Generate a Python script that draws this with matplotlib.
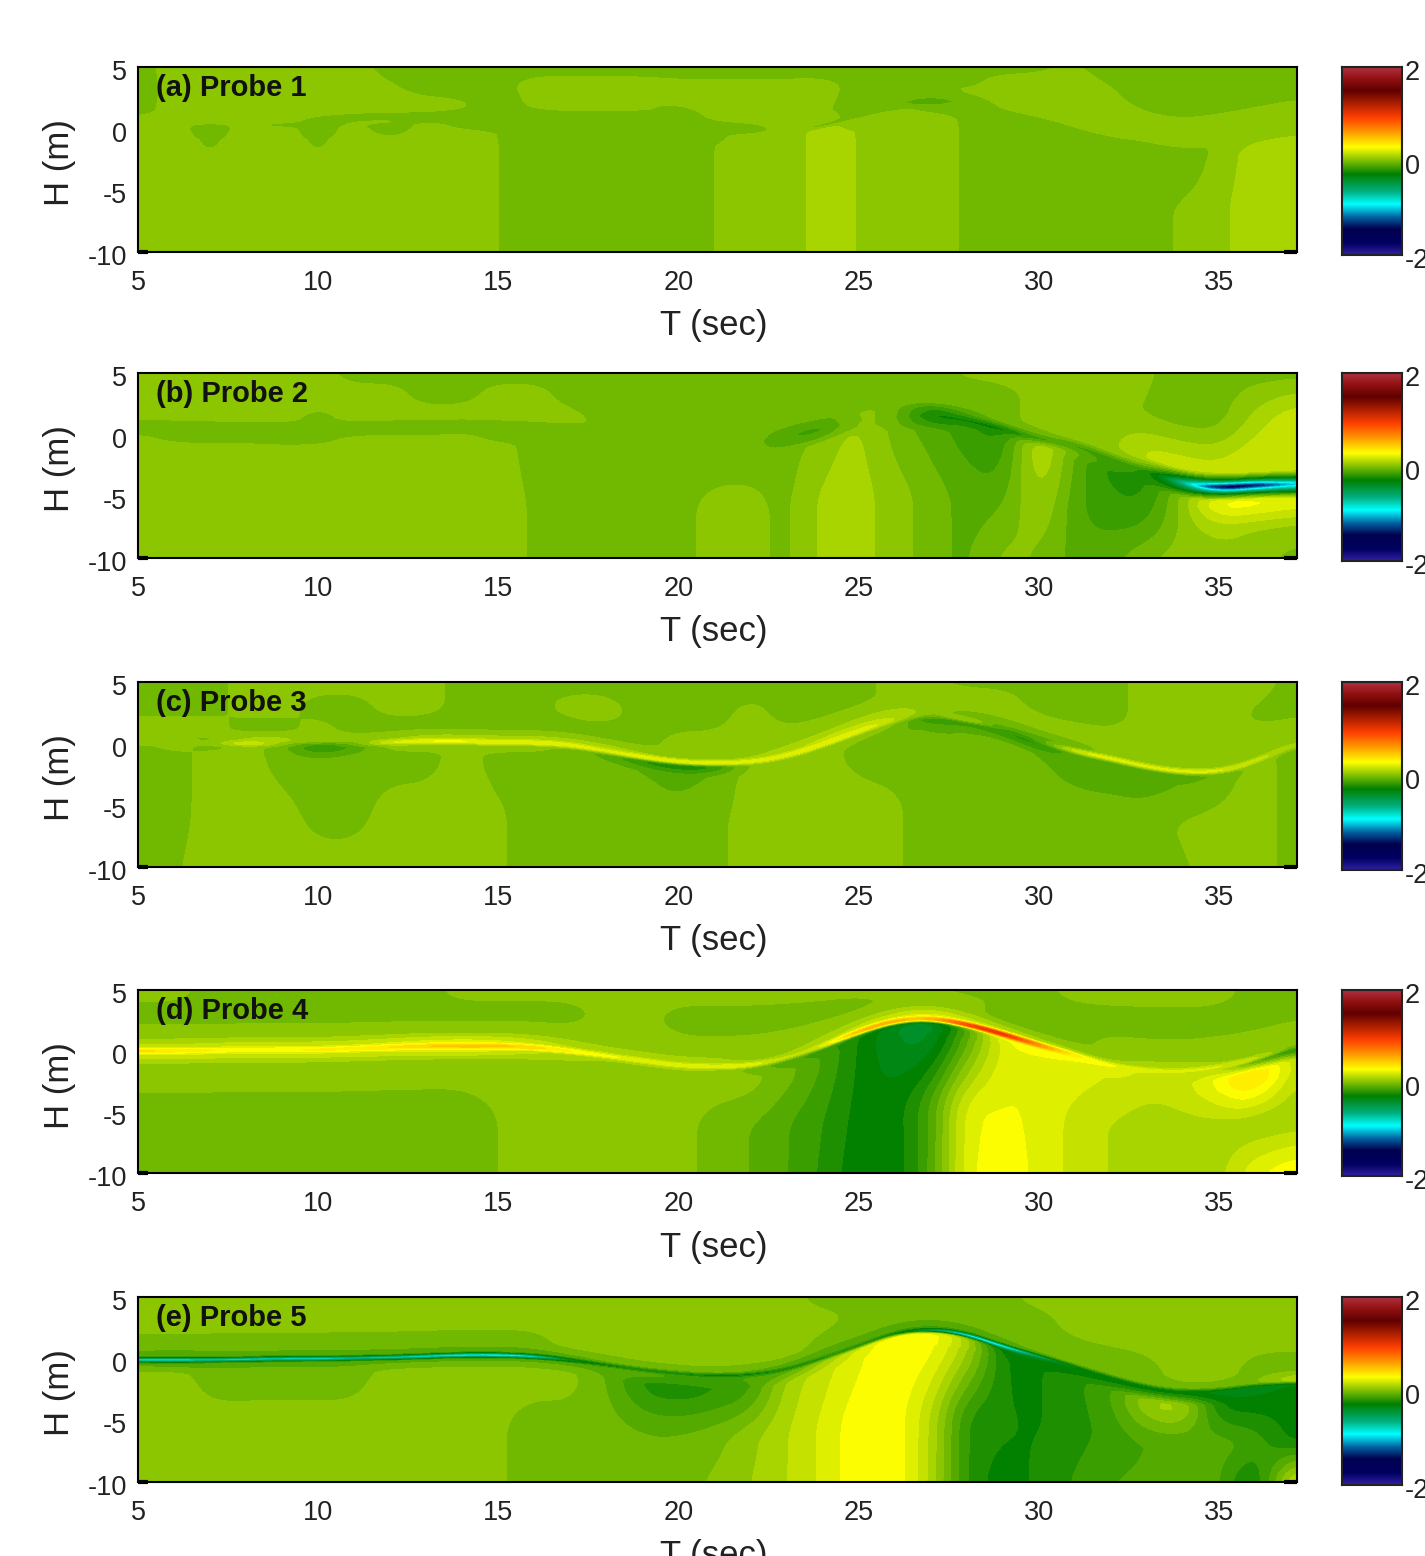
import matplotlib
matplotlib.use("Agg")
import numpy as np
import matplotlib.pyplot as plt
from matplotlib.colors import LinearSegmentedColormap
from matplotlib.transforms import ScaledTranslation

plt.rcParams['font.family'] = ['Liberation Sans', 'DejaVu Sans']
plt.rcParams['axes.unicode_minus'] = False

W, H = 1425, 1556
T_COLS = [5, 6, 7, 8, 9, 10, 11, 12, 13, 14, 15, 16, 17, 18, 19, 20, 21, 22, 23, 24, 25, 26, 27, 28, 29, 30, 31, 32, 33, 34, 35, 36, 37.2]
LABELS = ["(a) Probe 1", "(b) Probe 2", "(c) Probe 3", "(d) Probe 4", "(e) Probe 5"]

# free-surface elevation (m) per probe, per T column
ETA_A = [0.3, 0.3, 0.3, 0.3, 0.3, 0.3, 0.5, 0.6, 0.6, 0.7, 0.7, 0.7, 0.7, 0.7, 0.6, -0.2, -0.3, -0.3, -0.2, 0.2, 1.0, 1.7, 2.1, 1.9, 1.4, 0.8, 0.2, -0.5, -1.2, -1.8, -1.3, -0.6, 0.3]
ETA_B = [0.3, 0.3, 0.2, 0.2, 0.1, 0.1, 0.2, 0.3, 0.3, 0.4, 0.3, 0.2, 0.0, -0.2, -0.5, -0.9, -1.0, -0.8, -0.2, 0.4, 1.2, 1.5, 1.6, 1.2, 0.5, -0.4, -0.8, -1.9, -3.0, -4.0, -4.3, -4.1, -4.0]
ETA_C = [0.1, 0.1, 0.05, 0.0, 0.0, -0.1, 0.0, 0.1, 0.2, 0.2, 0.1, 0.1, -0.1, -0.6, -1.1, -1.5, -1.6, -1.5, -1.0, -0.1, 1.0, 2.0, 2.4, 2.0, 1.3, 0.2, -0.6, -1.2, -1.9, -2.3, -2.3, -1.5, 0.1]
ETA_D = [0.0, 0.0, 0.05, 0.1, 0.1, 0.1, 0.2, 0.3, 0.4, 0.4, 0.4, 0.3, 0.0, -0.4, -0.8, -1.2, -1.3, -1.2, -0.6, 0.4, 1.6, 2.5, 2.7, 2.2, 1.4, 0.5, -0.3, -1.2, -1.6, -1.7, -1.3, -0.7, 0.6]
ETA_E = [-0.1, -0.1, -0.1, -0.05, 0.0, 0.0, 0.05, 0.1, 0.2, 0.3, 0.3, 0.2, -0.1, -0.5, -0.9, -1.2, -1.4, -1.3, -0.9, 0.0, 1.0, 2.1, 2.4, 2.0, 1.0, 0.2, -0.6, -1.5, -2.3, -2.7, -2.6, -2.2, -2.0]
INNER = [0.3, 0.6, 0.3, 0.3, 0.3]

# field values in hundredths, rows from the top of the water column to the bottom
FIELD_A = [
 [-3, 3, 3, 3, 3, 3, 3, -3, -3, -3, -3, -3, -3, -3, -3, -3, -3, -3, -3, -3, -3, -3, -3, -3, -3, -1, 1, -3, -3, -3, -3, -3, 1],
 [-4, 3, 3, 3, 3, 3, 3, 1, -3, -3, -3, 3, 3, 3, 3, 3, 3, 3, 3, 3, -3, -3, -3, -3, 3, 3, 3, 1, -3, -3, -3, -3, -3],
 [-3, 3, 3, 3, 3, 3, 3, 3, 3, 1, -3, 1, 3, 3, 1, -3, 1, 3, 3, 1, -3, -4, -2, 1, 3, 3, 3, 3, 3, 3, 3, 3, 3],
 [2, 3, 3, 3, 3, -3, -3, -3, -3, -3, -3, -3, -3, -3, -3, -3, -3, -3, 3, 3, -3, -6, -8, -6, 1, 3, 3, 3, 3, 3, 3, 3, 3],
 [3, 3, -3, 3, -3, -4, 1, 1, -3, -3, -3, -3, -3, -3, -3, -3, -3, -2, 3, -3, -3, -3, -9, -3, -3, -3, 1, 3, -3, -4, 3, 3, 3],
 [3, 3, -4, 3, 3, -4, 3, -5, 3, -3, -3, -3, -3, -3, -3, -3, -2, 3, 3, 9, 3, 3, -3, -3, -3, -3, -3, -3, -6, -7, 3, 6, 3],
 [3, 3, -2, 3, 3, -2, 3, -1, 3, 3, 0, -3, -3, -3, -3, -3, 0, 3, 3, 9, 6, 3, 3, -1, -3, -3, -3, -3, -5, -6, 3, 9, 9],
 [3, 3, 3, 3, 3, 3, 3, 3, 3, 3, 0, -3, -3, -3, -3, -3, 0, 3, 3, 9, 6, 3, 3, -1, -3, -3, -3, -3, -3, 1, 5, 9, 9],
 [3, 3, 3, 3, 3, 3, 3, 3, 3, 3, 0, -3, -3, -3, -3, -3, 0, 3, 3, 9, 6, 3, 3, -1, -3, -3, -3, -3, -3, 1, 5, 9, 9],
]
FIELD_B = [
 [3, 3, 3, 3, 3, 3, -3, -3, -3, -3, -3, -3, -3, -3, -3, -3, -3, -3, -3, -3, -3, -3, -3, 1, 3, 3, 3, 3, 1, -3, -3, -3, -3],
 [3, 3, 3, 3, 3, 3, 3, 3, -3, -3, 3, 3, -3, -3, -3, -3, -3, -3, -3, -3, -3, -3, -3, -3, -3, 3, 3, 3, -1, -3, -3, 9, 20],
 [3, 3, 3, 3, 3, -3, 3, 3, 3, 3, 3, 3, 3, -3, -3, -3, -3, -3, -3, -3, -3, -3, -3, -3, -3, 3, 3, 3, 16, 18, 16, 22, 16],
 [-3, -3, -3, -3, -3, -3, -3, -3, -3, -3, -3, -3, -3, -3, -3, -3, -3, -3, -9, -12, 3, -3, -22, -12, -3, -3, 3, 3, 3, -28, -30, -30, -30],
 [-3, -6, -4, -6, -6, -4, -3, -5, -6, -3, -3, -3, -3, -3, -3, -4, -3, -3, -12, -16, 3, -3, -28, -26, -30, -14, -14, -16, -16, -70, -170, -160, -100],
 [3, -3, -5, -3, -5, -3, 3, 3, 3, 3, -3, -3, -3, -3, -3, -3, -3, -3, -9, -9, 3, -3, -22, -16, -24, 16, -6, -16, -22, -30, -30, -30, -30],
 [3, 3, 3, 3, 3, 3, 3, 3, 3, 3, 3, -3, -3, -3, -3, -3, -3, -3, -3, 3, 9, -3, -9, -16, -20, 18, -9, -22, -22, 3, 30, 30, 25],
 [3, 3, 3, 3, 3, 3, 3, 3, 3, 3, 3, -1, -3, -3, -3, -3, 3, 3, -3, 9, 9, 3, -3, -9, -9, 9, -12, -16, -14, 3, 9, 6, 3],
 [3, 3, 3, 3, 3, 3, 3, 3, 3, 3, 3, -1, -3, -3, -3, -3, 3, 3, -3, 9, 9, 3, -3, -9, 3, -1, -9, -9, -1, 3, 3, 3, -3],
]
FIELD_C = [
 [-3, -3, -3, 3, 3, 3, 3, 3, 3, -3, -3, -3, -3, -3, -3, -3, -3, -3, -3, -3, -3, 3, 3, -3, -3, -3, -3, -3, 3, 3, 3, 3, -3],
 [-3, -3, -3, 3, 3, -3, -3, 3, 3, -3, -3, -3, 3, 3, -3, -3, -3, 3, -3, -3, -3, 3, 3, 3, 3, -3, -3, -3, 3, 1, 3, -1, -3],
 [3, 3, 3, -3, -3, 3, -3, -3, -3, -3, -3, -3, -3, -3, -3, 3, 3, 3, 3, 3, 5, 3, 3, 3, 3, 3, 3, 3, 3, 3, 3, 3, 3],
 [3, 3, -3, 9, 9, 3, 3, 5, 9, 9, 9, 9, 9, 9, 6, 3, 3, 6, 9, 16, 16, 12, 3, -3, -6, -9, -6, 3, 3, 3, 3, 3, 6],
 [3, 9, -3, 24, 3, -18, -5, 22, 28, 28, 26, 28, 26, 20, 28, 28, 28, 24, 25, 26, 26, 14, -9, 14, -16, -16, 22, 24, 22, 24, 22, 18, 6],
 [-3, 3, -3, 3, -3, -22, -12, 3, 3, 3, 3, 3, -3, -9, -22, -28, -22, 3, 3, 3, 3, 3, -22, -14, -20, -22, -9, -9, -12, -10, -6, 3, -3],
 [-3, -3, 3, 3, -3, -6, -3, -3, -3, 3, -3, -3, -3, -3, -6, -9, -5, 3, 3, 3, -3, -6, -6, -6, -3, -6, -9, -9, -9, -6, -3, 3, -3],
 [-3, -3, 3, 3, 3, -3, -3, 3, 3, 3, 1, -3, -3, -3, -3, -3, -2, 3, 3, 3, 3, 1, -3, -3, -3, -3, -3, -3, -3, 1, 3, 3, -3],
 [-3, -1, 3, 3, 3, 3, 3, 3, 3, 3, 1, -3, -3, -3, -3, -3, -2, 3, 3, 3, 3, 1, -3, -3, -3, -3, -3, -3, -3, -1, 3, 3, -3],
]
FIELD_D = [
 [3, 3, -3, -3, -3, -3, -3, -3, -3, 3, 3, 3, 3, 3, 3, 3, 3, 3, 3, 3, 3, 3, 3, -3, -3, -3, 3, 3, 3, 3, 3, -3, -3],
 [-3, -3, -3, -3, -3, -3, -3, -3, -3, -3, -3, -3, -3, 3, 3, -3, -3, -3, -3, -3, -3, 3, 3, 3, -3, -3, -3, -3, -3, -3, -3, -3, -3],
 [3, 3, 3, 3, 3, 3, 3, 3, 3, 3, 3, 3, 3, 3, 3, 3, 3, 3, 3, 3, 3, 3, 3, 3, -3, -3, -3, 3, 3, 3, 3, 3, 3],
 [16, 16, 16, 18, 18, 18, 18, 20, 22, 24, 22, 18, 12, 9, 9, 9, 9, 5, 6, 9, 16, 18, 22, 16, 12, 9, 6, 6, 9, 9, 6, 3, 3],
 [44, 36, 34, 30, 32, 34, 36, 40, 46, 52, 50, 44, 34, 28, 26, 24, 26, 26, 12, 18, 60, 60, 50, 105, 115, 70, 32, 26, 22, 22, 20, 20, -12],
 [18, 18, 18, 18, 18, 18, 18, 20, 22, 22, 20, 14, 9, 6, 6, 6, 6, -3, -12, -16, -24, -36, -44, -12, 28, 28, 26, 24, 16, 12, 16, -12, -24],
 [3, 3, 3, 3, 3, 3, 3, 3, 3, 3, 3, 3, 3, 3, 3, 3, 3, 3, -3, -12, -26, -38, -44, -10, 24, 24, 22, 18, 14, 16, 28, 50, 12],
 [-3, -3, -3, -3, -3, -3, -3, -3, -3, -3, 0, 3, 3, 3, 3, 3, -3, -6, -12, -18, -28, -30, -14, 24, 26, 24, 16, 12, 9, 9, 9, 6, 6],
 [-3, -3, -3, -3, -3, -3, -3, -3, -3, -3, 0, 3, 3, 3, 3, 3, -3, -6, -12, -20, -30, -30, -14, 26, 28, 24, 16, 12, 9, 9, 9, 24, 32],
]
FIELD_E = [
 [3, 3, 3, 3, 3, 3, 3, 3, 3, 3, 3, 3, 3, 3, 3, 3, 3, 3, 3, -3, -3, -3, -3, -3, -3, 3, 3, 3, 3, 3, 3, 3, 3],
 [3, 3, 3, 3, 3, 3, 3, 3, 3, 3, 3, 3, 3, 3, 3, 3, 3, 3, 3, 3, -3, -3, -3, -3, -3, -3, 3, 3, 3, 3, 3, 3, 3],
 [-3, -3, -3, -3, -3, -3, -3, -3, -3, -3, -3, -3, 3, 3, 3, 3, 3, 3, 3, -3, -3, -3, -3, -3, -3, -3, -3, -3, -3, 3, 3, -3, -3],
 [-9, -12, -9, -9, -9, -9, -9, -9, -9, -9, -9, -9, -9, -5, -3, -3, -3, -6, -9, -12, -12, -12, -12, -12, -9, -6, -3, -3, -3, -3, -3, -3, 16],
 [-95, -105, -85, -95, -90, -95, -80, -90, -95, -105, -110, -95, -40, -30, -28, -28, -30, -30, -28, -24, -24, -30, -60, -110, -115, -60, -28, -30, -30, -28, -32, -34, -32],
 [-9, -12, -9, -9, -9, -9, -9, -9, -9, -9, -9, -9, -9, -9, -9, -12, -12, -12, -9, 6, 20, 30, 30, 12, -34, -30, -30, -28, -28, -26, -34, -34, -30],
 [3, 3, -3, -3, -3, -3, -3, 3, 3, 3, 3, 3, 3, -6, -22, -24, -20, -16, 9, 16, 24, 30, 30, 10, -28, -26, -20, -14, 9, 12, -28, -30, -28],
 [3, 3, 3, 3, 3, 3, 3, 3, 3, 3, 1, -3, -3, -3, -6, -6, -3, 4, 12, 20, 30, 30, 14, -22, -24, -26, -22, -16, -12, -12, -9, -14, -30],
 [3, 3, 3, 3, 3, 3, 3, 3, 3, 3, 1, -3, -3, -3, -3, -3, 1, 6, 12, 20, 30, 31, 12, -22, -28, -24, -18, -12, -12, -9, -9, -34, 25],
]

CMAP_VALUES = [-2, -1.75, -1.45, -1.2, -0.92, -0.65, -0.28, 0.3, 0.65, 0.93, 1.5, 1.75, 2]
CMAP_COLORS = ["#3020A0", "#000060", "#000050", "#0060A0", "#00FFFF", "#00B080", "#008000", "#FFFF00", "#FF9000", "#FF4000", "#600000", "#901010", "#B03040"]
cmap = LinearSegmentedColormap.from_list("probe", [((v + 2) / 4, c) for v, c in zip(CMAP_VALUES, CMAP_COLORS)], N=256)
LEVELS = np.linspace(-2, 2, 65)

PANELS = [(67, 252, 255, ETA_A, FIELD_A), (373, 558, 561, ETA_B, FIELD_B), (682, 867, 870, ETA_C, FIELD_C),
          (990, 1173, 1176, ETA_D, FIELD_D), (1297, 1482, 1485, ETA_E, FIELD_E)]

fig = plt.figure(figsize=(W / 100, H / 100), dpi=100)
shift_y = ScaledTranslation(0, -3 / 100, fig.dpi_scale_trans)
T = np.array(T_COLS, float)
STEP = 10


def upsample(A):
    nr, nc = A.shape
    ri = np.linspace(0, nr - 1, (nr - 1) * STEP + 1)
    ci = np.linspace(0, nc - 1, (nc - 1) * STEP + 1)
    A1 = np.array([np.interp(ci, np.arange(nc), row) for row in A])
    return np.array([np.interp(ri, np.arange(nr), col) for col in A1.T]).T


def box(A, width, axis):
    pad = width // 2
    widths = [(0, 0), (0, 0)]
    widths[axis] = (pad, pad)
    P = np.pad(A, widths, mode='edge')
    kernel = np.ones(2 * pad + 1) / (2 * pad + 1)
    return np.apply_along_axis(lambda v: np.convolve(v, kernel, mode='valid'), axis, P)


for label, inner, (top, bottom, cbot, eta, field) in zip(LABELS, INNER, PANELS):
    ax = fig.add_axes([138 / W, 1 - bottom / H, (1297 - 138) / W, (bottom - top) / H])
    e = np.array(eta)
    l2 = e + 1.2
    l6 = e - 1.2
    Y = np.vstack([np.full_like(e, 5.0), (5 + l2) / 2, l2, e + inner, e, e - inner, l6, (l6 - 10) / 2, np.full_like(e, -10.0)])
    X = np.tile(T, (9, 1))
    Z = np.array(field) / 100
    Xf, Yf, Zf = upsample(X), upsample(Y), upsample(Z)
    Yf = box(box(Yf, STEP, 1), STEP // 2, 1)
    Zf = box(box(Zf, STEP, 1), STEP // 2, 1)
    Zf = box(Zf, STEP // 2, 0)
    ax.contourf(Xf, Yf, Zf, levels=LEVELS, cmap=cmap, vmin=-2, vmax=2, extend='both')
    ax.set_xlim(5, 37.17)
    ax.set_ylim(-10, 5)
    ax.set_xticks([5, 10, 15, 20, 25, 30, 35])
    ax.set_yticks([-10, -5, 0, 5])
    ax.tick_params(length=0, labelsize=19.5, colors='#222222')
    ax.tick_params(axis='x', pad=13)
    ax.tick_params(axis='y', pad=8)
    for t in ax.get_yticklabels():
        t.set_transform(t.get_transform() + shift_y)
    for s in ax.spines.values():
        s.set_linewidth(1.5)
        s.set_color('black')
    ax.text(156 / W, 1 - (top + 21) / H, label, transform=fig.transFigure, fontsize=21, fontweight='bold', va='center', ha='left', color='#111111')
    fig.text(714 / W, 1 - (bottom + 74) / H, "T (sec)", fontsize=25, ha='center', va='center', color='#222222')
    fig.text(59 / W, 1 - (top + 96) / H, "H (m)", fontsize=25, ha='center', va='center', rotation=90, color='#222222')
    ax.plot([5, 5.28], [-10, -10], color='black', lw=3, clip_on=False, solid_capstyle='butt')
    ax.plot([36.8, 37.17], [-10, -10], color='black', lw=3, clip_on=False, solid_capstyle='butt')
    cax = fig.add_axes([1342 / W, 1 - cbot / H, 60 / W, (cbot - top) / H])
    grad = np.linspace(-2, 2, 256).reshape(-1, 1)
    cax.imshow(grad, origin='lower', aspect='auto', cmap=cmap, vmin=-2, vmax=2, extent=[0, 1, -2, 2])
    cax.set_xticks([])
    cax.yaxis.tick_right()
    cax.set_yticks([-2, 0, 2])
    cax.tick_params(length=0, labelsize=19.5, pad=2, colors='#222222')
    for t in cax.get_yticklabels():
        t.set_transform(t.get_transform() + shift_y)
    for s in cax.spines.values():
        s.set_linewidth(1.5)
        s.set_color('#222222')

fig.savefig("out.png", dpi=100)
